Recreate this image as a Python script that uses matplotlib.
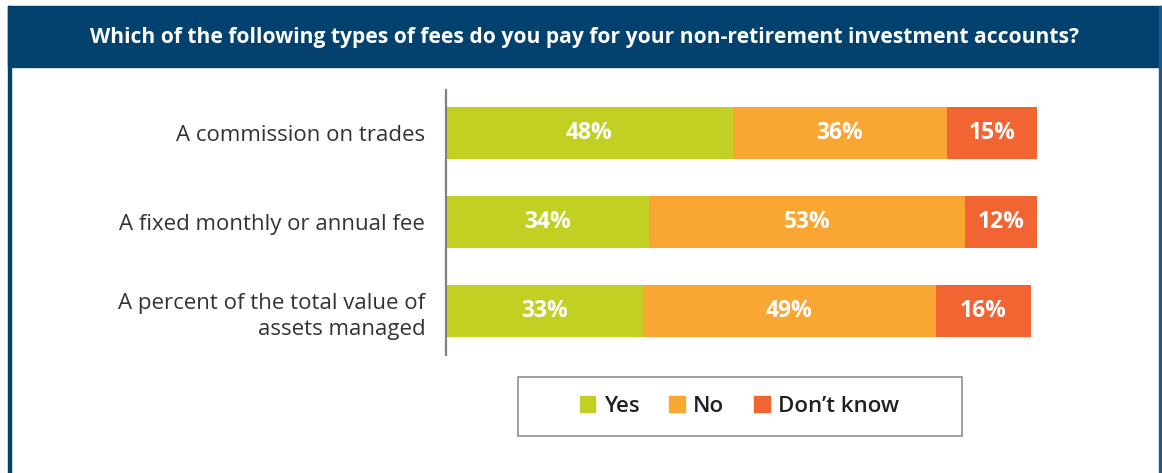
import matplotlib
matplotlib.use("Agg")
import matplotlib.pyplot as plt
from matplotlib.patches import Rectangle

plt.rcParams['font.family'] = ['Open Sans', 'DejaVu Sans']

title = "Which of the following types of fees do you pay for your non-retirement investment accounts?"
categories = ["A commission on trades", "A fixed monthly or annual fee",
              "A percent of the total value of\nassets managed"]
series_names = ["Yes", "No", "Don\u2019t know"]
yes = [48, 34, 33]
no = [36, 53, 49]
dont_know = [15, 12, 16]
colors = ["#c2d024", "#f9a633", "#f26532"]

W, H = 1162, 473
fig = plt.figure(figsize=(W / 100, H / 100), dpi=100)

# frame: title bar and border
blue = "#03426f"
fig.patches.append(Rectangle((8 / W, (H - 67) / H), (W - 8) / W, 61 / H,
                             transform=fig.transFigure, color=blue, zorder=0))
fig.patches.append(Rectangle((8 / W, 0), 3 / W, (H - 6) / H,
                             transform=fig.transFigure, color=blue, zorder=0))
fig.patches.append(Rectangle((1159 / W, 0), 3 / W, (H - 6) / H,
                             transform=fig.transFigure, color="#1d5a8a", zorder=0))
fig.text(585 / W, (H - 38) / H, title, color="white", fontsize=15.1,
         fontweight="bold", ha="center", va="center")

px_per_pct = 5.97
ax_left, ax_right = 446, 446 + 100 * px_per_pct
ax_top, ax_bot = 90, 355
ax = fig.add_axes([ax_left / W, (H - ax_bot) / H, (ax_right - ax_left) / W, (ax_bot - ax_top) / H])
ax.set_xlim(0, 100)
ax.set_ylim(2.494, -0.483)

ypos = list(range(len(categories)))
lefts = [0] * len(categories)
for vals, col in zip([yes, no, dont_know], colors):
    bars = ax.barh(ypos, vals, left=lefts, height=0.585, color=col, edgecolor="none")
    for b, v in zip(bars, vals):
        ax.text(b.get_x() + b.get_width() / 2, b.get_y() + b.get_height() / 2,
                f"{v}%", color="white", fontsize=16.5, fontweight="bold",
                ha="center", va="center")
    lefts = [l + v for l, v in zip(lefts, vals)]

ax.set_yticks(ypos)
ax.set_yticklabels(categories, fontsize=16, color="#333333", linespacing=1.35)
ax.tick_params(axis="y", length=0, pad=15)
ax.set_xticks([])
for s in ["top", "right", "bottom"]:
    ax.spines[s].set_visible(False)
ax.spines["left"].set_color("#7f7f7f")
ax.spines["left"].set_linewidth(1.6)
for lbl in ax.get_yticklabels():
    lbl.set_horizontalalignment("right")
    lbl.set_multialignment("right")

# legend box
fig.patches.append(Rectangle((518 / W, (H - 436) / H), 444 / W, 59 / H,
                             transform=fig.transFigure, facecolor="white",
                             edgecolor="#999999", linewidth=1.3, zorder=1))
handles = [Rectangle((0, 0), 1, 1, color=c) for c in colors]
leg = fig.legend(handles, series_names, loc="center",
                 bbox_to_anchor=(739.5 / W, (H - 406.5) / H), ncol=3,
                 fontsize=16, frameon=False,
                 handlelength=0.7, handleheight=0.7, handletextpad=0.38,
                 columnspacing=1.35, borderpad=0.2)
for t in leg.get_texts():
    t.set_color("#231f20")
    t.set_fontweight("semibold")

fig.savefig("out.png", dpi=100)
